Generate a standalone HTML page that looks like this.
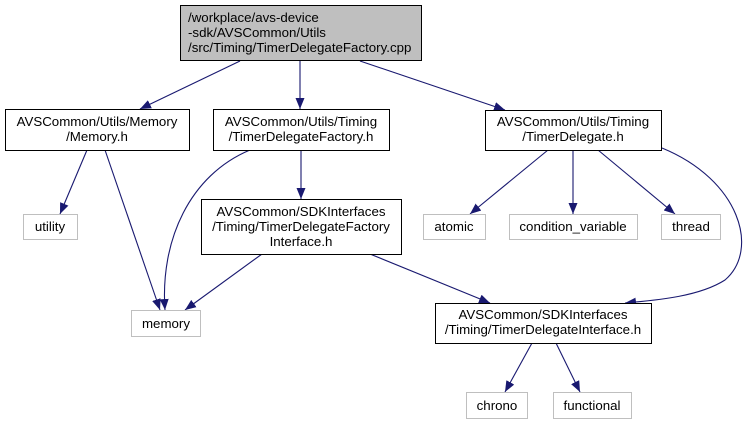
<!DOCTYPE html>
<html><head><meta charset="utf-8"><style>
body{margin:0;background:#fff;width:748px;height:424px;overflow:hidden}
svg text{font-family:"Liberation Sans",Arial,sans-serif;font-size:13.3px;fill:#000}
</style></head><body>
<svg width="748" height="424" viewBox="0 0 748 424" xmlns="http://www.w3.org/2000/svg">
<defs><marker id="a" markerWidth="11" markerHeight="9" refX="11" refY="4.5" orient="auto" markerUnits="userSpaceOnUse"><path d="M0,0 L11,4.5 L0,9 Z" fill="#191970"/></marker></defs>
<g stroke="#191970" stroke-width="1.1" fill="none" marker-end="url(#a)">
<path d="M240,61 L140,109"/>
<path d="M300,61 L300,109"/>
<path d="M360,61 L505,110"/>
<path d="M87,150 L60,214"/>
<path d="M105,150 L160,310"/>
<path d="M250,150 C190,175 160,240 165,310"/>
<path d="M301,150 L301,199"/>
<path d="M262,254 L185,310"/>
<path d="M370,254 L490,303"/>
<path d="M548,150 L470,214"/>
<path d="M573,150 L573,214"/>
<path d="M598,150 L675,214"/>
<path d="M662,148 C740,180 760,250 725,280 C700,296 660,300 625,303"/>
<path d="M532,343 L505,392"/>
<path d="M556,343 L580,392"/>
</g>
<g stroke="#000" stroke-width="1">
<rect x="180.5" y="5.5" width="241" height="55" fill="#bfbfbf"/>
<rect x="5.5" y="109.5" width="184" height="41" fill="#fff"/>
<rect x="213.5" y="109.5" width="176" height="41" fill="#fff"/>
<rect x="485.5" y="110.5" width="176" height="40" fill="#fff"/>
<rect x="201.5" y="199.5" width="200" height="55" fill="#fff"/>
<rect x="435.5" y="303.5" width="216" height="40" fill="#fff"/>
</g>
<g stroke="#bfbfbf" stroke-width="1" fill="#fff">
<rect x="23.5" y="214.5" width="54" height="25"/>
<rect x="131.5" y="310.5" width="69" height="26"/>
<rect x="423.5" y="214.5" width="62" height="25"/>
<rect x="509.5" y="214.5" width="128" height="25"/>
<rect x="661.5" y="214.5" width="59" height="25"/>
<rect x="466.5" y="392.5" width="61" height="26"/>
<rect x="553.5" y="392.5" width="78" height="26"/>
</g>
<text x="188" y="22">/workplace/avs-device</text>
<text x="188" y="37">-sdk/AVSCommon/Utils</text>
<text x="188" y="52">/src/Timing/TimerDelegateFactory.cpp</text>
<g text-anchor="middle">
<text x="97" y="126">AVSCommon/Utils/Memory</text>
<text x="97" y="141">/Memory.h</text>
<text x="301" y="126">AVSCommon/Utils/Timing</text>
<text x="301" y="141">/TimerDelegateFactory.h</text>
<text x="573" y="126">AVSCommon/Utils/Timing</text>
<text x="573" y="141">/TimerDelegate.h</text>
<text x="301" y="216">AVSCommon/SDKInterfaces</text>
<text x="301" y="231">/Timing/TimerDelegateFactory</text>
<text x="301" y="246">Interface.h</text>
<text x="543" y="319">AVSCommon/SDKInterfaces</text>
<text x="543" y="334">/Timing/TimerDelegateInterface.h</text>
<text x="50" y="231">utility</text>
<text x="166" y="328">memory</text>
<text x="454" y="231">atomic</text>
<text x="573" y="231">condition_variable</text>
<text x="691" y="231">thread</text>
<text x="497" y="410">chrono</text>
<text x="592" y="410">functional</text>
</g>
</svg>
</body></html>
